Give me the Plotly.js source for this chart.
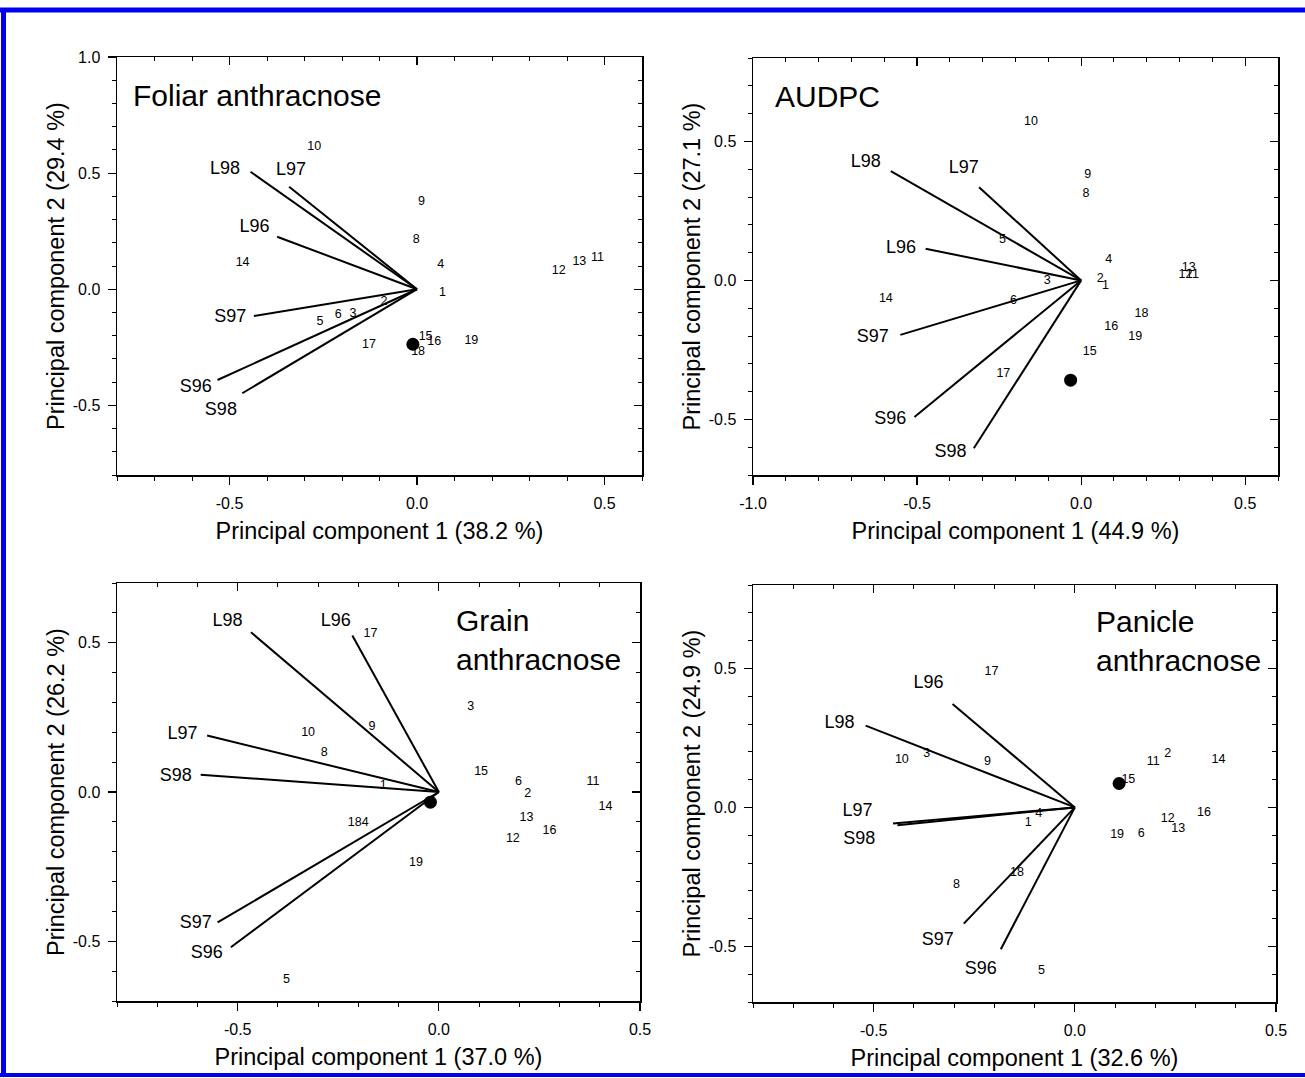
<!DOCTYPE html>
<html>
<head>
<meta charset="utf-8">
<script src="https://cdn.plot.ly/plotly-3.0.1.min.js"></script>
<style>html,body{margin:0;padding:0;background:#fff;}#chart{width:1305px;height:1078px;}</style>
</head>
<body>
<div id="chart"></div>
<script>
// ---------- shared ----------
var varNames = ['L98', 'L97', 'L96', 'S97', 'S96', 'S98'];
var pointLabels = ['1','2','3','4','5','6','8','9','10','11','12','13','14','15','16','17','18','19'];
var tickVals = [-1.0, -0.5, 0.0, 0.5, 1.0];
var tickText = ['-1.0', '-0.5', '0.0', '0.5', '1.0'];

// ---------- Panel 1: Foliar anthracnose ----------
var foliarTitle = 'Foliar anthracnose';
var foliarXTitle = 'Principal component 1 (38.2 %)';
var foliarYTitle = 'Principal component 2 (29.4 %)';
var foliarVecX = [-0.444, -0.341, -0.373, -0.435, -0.532, -0.466];
var foliarVecY = [0.506, 0.441, 0.226, -0.115, -0.391, -0.448];
var foliarVarLabX = [-0.512, -0.336, -0.433, -0.498, -0.590, -0.523];
var foliarVarLabY = [0.514, 0.510, 0.266, -0.122, -0.424, -0.524];
var foliarPtX = [0.068, -0.088, -0.171, 0.063, -0.259, -0.210, -0.002, 0.012, -0.274, 0.481, 0.378, 0.433, -0.465, 0.023, 0.046, -0.128, 0.003, 0.145];
var foliarPtY = [-0.017, -0.053, -0.108, 0.103, -0.141, -0.112, 0.213, 0.374, 0.611, 0.136, 0.079, 0.119, 0.112, -0.205, -0.226, -0.240, -0.270, -0.223];
var foliarDot = [-0.011, -0.237];

// ---------- Panel 2: AUDPC ----------
var audpcTitle = 'AUDPC';
var audpcXTitle = 'Principal component 1 (44.9 %)';
var audpcYTitle = 'Principal component 2 (27.1 %)';
var audpcVecX = [-0.580, -0.311, -0.474, -0.551, -0.508, -0.327];
var audpcVecY = [0.393, 0.335, 0.114, -0.196, -0.491, -0.604];
var audpcVarLabX = [-0.656, -0.358, -0.549, -0.635, -0.582, -0.398];
var audpcVarLabY = [0.425, 0.402, 0.114, -0.206, -0.502, -0.619];
var audpcPtX = [0.074, 0.058, -0.103, 0.084, -0.240, -0.206, 0.015, 0.020, -0.153, 0.339, 0.318, 0.328, -0.595, 0.026, 0.092, -0.237, 0.184, 0.165];
var audpcPtY = [-0.020, 0.006, -0.002, 0.075, 0.144, -0.074, 0.313, 0.381, 0.570, 0.019, 0.019, 0.046, -0.065, -0.256, -0.166, -0.338, -0.120, -0.202];
var audpcDot = [-0.032, -0.359];

// ---------- Panel 3: Grain anthracnose ----------
var grainTitle = 'Grain<br>anthracnose';
var grainXTitle = 'Principal component 1 (37.0 %)';
var grainYTitle = 'Principal component 2 (26.2 %)';
var grainVecX = [-0.467, -0.576, -0.215, -0.550, -0.517, -0.592];
var grainVecY = [0.535, 0.189, 0.524, -0.437, -0.520, 0.058];
var grainVarLabX = [-0.525, -0.637, -0.256, -0.604, -0.577, -0.654];
var grainVarLabY = [0.572, 0.192, 0.572, -0.441, -0.542, 0.053];
var grainPtX = [-0.138, 0.221, 0.079, -0.183, -0.379, 0.198, -0.285, -0.166, -0.325, 0.383, 0.184, 0.218, 0.414, 0.105, 0.275, -0.170, -0.209, -0.057];
var grainPtY = [0.021, -0.007, 0.284, -0.104, -0.629, 0.034, 0.131, 0.218, 0.198, 0.034, -0.156, -0.087, -0.051, 0.069, -0.130, 0.530, -0.102, -0.236];
var grainDot = [-0.021, -0.034];

// ---------- Panel 4: Panicle anthracnose ----------
var panicleTitle = 'Panicle<br>anthracnose';
var panicleXTitle = 'Principal component 1 (32.6 %)';
var panicleYTitle = 'Principal component 2 (24.9 %)';
var panicleVecX = [-0.520, -0.452, -0.304, -0.276, -0.184, -0.441];
var panicleVecY = [0.294, -0.058, 0.372, -0.418, -0.510, -0.064];
var panicleVarLabX = [-0.585, -0.540, -0.364, -0.341, -0.234, -0.536];
var panicleVarLabY = [0.303, -0.016, 0.447, -0.480, -0.582, -0.116];
var paniclePtX = [-0.116, 0.231, -0.368, -0.090, -0.083, 0.165, -0.294, -0.217, -0.430, 0.195, 0.231, 0.257, 0.357, 0.133, 0.321, -0.207, -0.144, 0.105];
var paniclePtY = [-0.054, 0.192, 0.192, -0.022, -0.588, -0.096, -0.280, 0.164, 0.170, 0.162, -0.042, -0.078, 0.172, 0.100, -0.020, 0.486, -0.236, -0.098];
var panicleDot = [0.110, 0.086];

// ---------- build ----------
var FONT = 'Liberation Sans, Arial, Helvetica, sans-serif';
var W = 1305, H = 1078;

var panels = [
  {t: foliarTitle, xt: foliarXTitle, yt: foliarYTitle, vx: foliarVecX, vy: foliarVecY, lx: foliarVarLabX, ly: foliarVarLabY, px: foliarPtX, py: foliarPtY, dot: foliarDot,
   xr: [-0.8, 0.6], yr: [-0.8, 1.0], box: [117, 642, 57, 475], title: {x: -0.762, y: 0.833}},
  {t: audpcTitle, xt: audpcXTitle, yt: audpcYTitle, vx: audpcVecX, vy: audpcVecY, lx: audpcVarLabX, ly: audpcVarLabY, px: audpcPtX, py: audpcPtY, dot: audpcDot,
   xr: [-1.0, 0.6], yr: [-0.7, 0.8], box: [753, 1278, 58, 475], title: {x: -0.938, y: 0.662}},
  {t: grainTitle, xt: grainXTitle, yt: grainYTitle, vx: grainVecX, vy: grainVecY, lx: grainVarLabX, ly: grainVarLabY, px: grainPtX, py: grainPtY, dot: grainDot,
   xr: [-0.8, 0.5], yr: [-0.7, 0.7], box: [117, 640, 583, 1001], title: {x: 0.038, y: 0.508}},
  {t: panicleTitle, xt: panicleXTitle, yt: panicleYTitle, vx: panicleVecX, vy: panicleVecY, lx: panicleVarLabX, ly: panicleVarLabY, px: paniclePtX, py: paniclePtY, dot: panicleDot,
   xr: [-0.8, 0.5], yr: [-0.7, 0.8], box: [753, 1276, 585, 1002], title: {x: 0.048, y: 0.597}}
];

var data = [];
var layout = {
  width: W, height: H,
  margin: {l: 0, r: 0, t: 0, b: 0},
  paper_bgcolor: '#ffffff', plot_bgcolor: '#ffffff',
  showlegend: false,
  font: {family: FONT, color: '#000'},
  annotations: [],
  shapes: [
    {type: 'line', xref: 'paper', yref: 'paper', x0: 3.5 / W, x1: 3.5 / W, y0: 1 - 1075 / H, y1: 1 - 9 / H, line: {color: '#0000f0', width: 5}},
    {type: 'line', xref: 'paper', yref: 'paper', x0: 0, x1: 1, y0: 1 - 10 / H, y1: 1 - 10 / H, line: {color: '#0000f0', width: 5}},
    {type: 'line', xref: 'paper', yref: 'paper', x0: 0, x1: 1, y0: 1 - 1075 / H, y1: 1 - 1075 / H, line: {color: '#0000f0', width: 4}}
  ]
};

panels.forEach(function (p, i) {
  var n = i + 1, m = i + 5;
  var xa = 'x' + (n === 1 ? '' : n), ya = 'y' + (n === 1 ? '' : n);
  var xm = 'x' + m, ym = 'y' + m;
  var dx = [p.box[0] / W, p.box[1] / W];
  var dy = [1 - p.box[3] / H, 1 - p.box[2] / H];

  var tv = [], tt = [];
  tickVals.forEach(function (v, k) { tv.push(v); tt.push(tickText[k]); });

  var baseAxis = {
    showgrid: false, zeroline: false, showline: true, mirror: true, linecolor: '#000', linewidth: 1.5,
    ticks: 'outside', ticklen: 8, tickwidth: 1.2, tickcolor: '#000',
    tickmode: 'array', tickvals: tv, ticktext: tt,
    minor: {tickmode: 'linear', tick0: 0, dtick: 0.1, ticks: 'outside', ticklen: 4, tickwidth: 1, tickcolor: '#000'},
    tickfont: {family: FONT, size: 16, color: '#000'},
    fixedrange: true
  };
  layout['xaxis' + (n === 1 ? '' : n)] = Object.assign({}, baseAxis, {
    domain: dx, range: p.xr, anchor: ya, ticklabelstandoff: 5,
    title: {text: p.xt, font: {family: FONT, size: 23.5, color: '#000'}, standoff: 12}
  });
  layout['yaxis' + (n === 1 ? '' : n)] = Object.assign({}, baseAxis, {
    domain: dy, range: p.yr, anchor: xa, ticklabelstandoff: 4,
    title: {text: p.yt, font: {family: FONT, size: 23.5, color: '#000'}, standoff: 1}
  });
  // inward mirror ticks on top and right
  var mirrorAxis = {
    showgrid: false, zeroline: false, showline: false, showticklabels: false,
    ticks: 'inside', ticklen: 8, tickwidth: 1.2, tickcolor: '#000',
    tickmode: 'array', tickvals: tv,
    minor: {tickmode: 'linear', tick0: 0, dtick: 0.1, ticks: 'inside', ticklen: 4, tickwidth: 1, tickcolor: '#000'},
    fixedrange: true
  };
  layout['xaxis' + m] = Object.assign({}, mirrorAxis, {overlaying: xa, side: 'top', anchor: ym, range: p.xr});
  layout['yaxis' + m] = Object.assign({}, mirrorAxis, {overlaying: ya, side: 'right', anchor: xm, range: p.yr});
  data.push({type: 'scatter', x: [], y: [], xaxis: xm, yaxis: ym, hoverinfo: 'skip', showlegend: false});

  // vectors
  var lx = [], ly = [];
  p.vx.forEach(function (v, k) { lx.push(0, v, null); ly.push(0, p.vy[k], null); });
  data.push({type: 'scatter', mode: 'lines', x: lx, y: ly, xaxis: xa, yaxis: ya,
    line: {color: '#000', width: 2}, hoverinfo: 'skip', cliponaxis: false});
  // variable labels
  data.push({type: 'scatter', mode: 'text', x: p.lx, y: p.ly, text: varNames, xaxis: xa, yaxis: ya,
    textposition: 'middle center', textfont: {family: FONT, size: 18, color: '#000'}, hoverinfo: 'skip', cliponaxis: false});
  // genotype labels
  data.push({type: 'scatter', mode: 'text', x: p.px, y: p.py, text: pointLabels, xaxis: xa, yaxis: ya,
    textposition: 'middle center', textfont: {family: FONT, size: 12.5, color: '#000'}, hoverinfo: 'skip', cliponaxis: false});
  // filled dot
  data.push({type: 'scatter', mode: 'markers', x: [p.dot[0]], y: [p.dot[1]], xaxis: xa, yaxis: ya,
    marker: {color: '#000', size: 13, line: {width: 0}}, hoverinfo: 'skip'});

  // panel title
  layout.annotations.push({xref: xa, yref: ya, x: p.title.x, y: p.title.y, text: p.t, showarrow: false,
    xanchor: 'left', yanchor: 'middle', align: 'left', font: {family: FONT, size: 30, color: '#000'}});
});

Plotly.newPlot('chart', data, layout, {displayModeBar: false, staticPlot: true});
</script>
</body>
</html>
